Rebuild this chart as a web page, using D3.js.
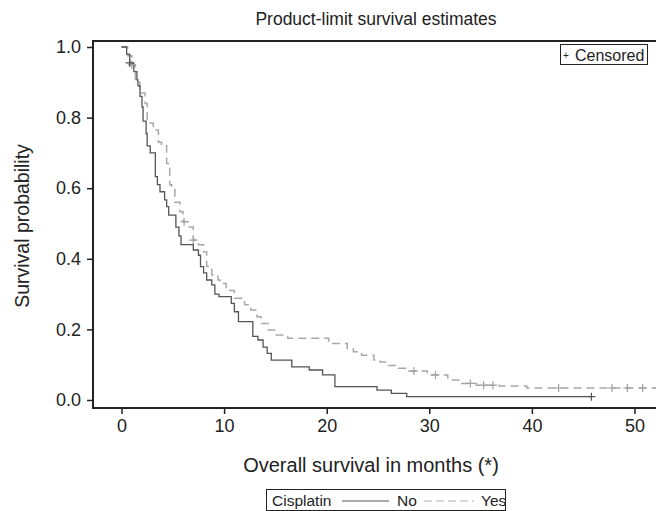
<!DOCTYPE html>
<html>
<head>
<meta charset="utf-8">
<script src="https://cdn.jsdelivr.net/npm/d3@7"></script>
<style>
  body { margin: 0; background: #fff; }
  text { font-family: "Liberation Sans", Arial, sans-serif; fill: #222; }
</style>
</head>
<body>
<div id="plot"></div>
<script>
// Kaplan-Meier step values: [months, survival]
const noSteps = [
  [0, 1.0], [0.5, 0.98], [0.8, 0.955], [1.2, 0.93], [1.5, 0.907], [1.6, 0.89],
  [1.8, 0.86], [2.0, 0.83], [2.1, 0.79], [2.4, 0.755], [2.5, 0.72], [2.8, 0.70],
  [3.3, 0.633], [3.5, 0.61], [3.75, 0.59], [4.2, 0.567], [4.4, 0.548], [4.6, 0.524],
  [5.3, 0.49], [5.6, 0.465], [5.8, 0.44], [7.0, 0.425], [7.5, 0.41], [7.7, 0.378],
  [8.0, 0.36], [8.3, 0.34], [8.8, 0.326], [9.1, 0.30], [9.5, 0.293], [10.7, 0.274],
  [11.0, 0.25], [11.4, 0.222], [12.8, 0.18], [13.3, 0.17], [13.8, 0.15], [14.2, 0.132],
  [14.6, 0.113], [16.6, 0.094], [18.3, 0.085], [19.6, 0.071], [20.8, 0.038],
  [24.9, 0.028], [26.3, 0.019], [27.8, 0.0094], [45.8, 0.0094]
];
const noCensored = [[0.8, 0.955], [45.8, 0.0094]];

const yesSteps = [
  [0, 1.0], [0.6, 0.975], [1.0, 0.95], [1.35, 0.90], [1.8, 0.87], [2.3, 0.84],
  [2.5, 0.79], [2.8, 0.785], [3.1, 0.765], [3.6, 0.73], [3.9, 0.72], [4.4, 0.67],
  [4.7, 0.61], [4.9, 0.60], [5.2, 0.56], [5.7, 0.533], [6.0, 0.505], [6.5, 0.49],
  [7.0, 0.453], [7.5, 0.44], [8.0, 0.42], [8.3, 0.378], [8.8, 0.354], [9.4, 0.34],
  [9.6, 0.33], [10.2, 0.31], [11.0, 0.288], [12.0, 0.27], [12.6, 0.255], [13.2, 0.236],
  [13.6, 0.217], [14.3, 0.198], [15.0, 0.184], [16.2, 0.175], [20.2, 0.16],
  [22.0, 0.146], [22.6, 0.137], [23.4, 0.127], [24.6, 0.113], [25.2, 0.108],
  [26.0, 0.098], [27.0, 0.09], [28.0, 0.082], [29.8, 0.071], [31.8, 0.057],
  [33.0, 0.047], [34.6, 0.042], [36.8, 0.040], [39.5, 0.034], [52.5, 0.034]
];
const yesCensored = [
  [1.0, 0.95], [6.1, 0.505], [7.0, 0.453], [28.5, 0.082], [30.6, 0.071],
  [34.0, 0.047], [35.3, 0.042], [36.2, 0.042], [42.6, 0.034], [47.8, 0.034],
  [49.3, 0.034], [50.8, 0.034], [52.2, 0.034]
];

const xTicks = [0, 10, 20, 30, 40, 50];
const yTicks = [0, 0.2, 0.4, 0.6, 0.8, 1.0];

const W = 656, H = 511;
const svg = d3.select("#plot").append("svg")
  .attr("width", W).attr("height", H);

// axis frame positions
const frameL = 93, frameT = 41, frameB = 408, frameR = 656;

const x = d3.scaleLinear().domain([0, 50]).range([121.5, 634.5]);
const y = d3.scaleLinear().domain([0, 1]).range([400, 47]);

// title
svg.append("text")
  .attr("x", 376).attr("y", 25)
  .attr("text-anchor", "middle")
  .style("font-size", "17.5px")
  .text("Product-limit survival estimates");

// frame lines (left, top, bottom)
svg.append("path")
  .attr("d", `M${frameR},${frameT}H${frameL}V${frameB}H${frameR}`)
  .attr("fill", "none").attr("stroke", "#222").attr("stroke-width", 2);

// y axis
const yAxis = svg.append("g")
  .attr("transform", `translate(${frameL - 1},0)`)
  .call(d3.axisLeft(y).tickValues(yTicks).tickFormat(d3.format(".1f")).tickSize(5).tickPadding(6));
yAxis.select(".domain").remove();
yAxis.selectAll("line").attr("stroke", "#222").attr("stroke-width", 1.5);
yAxis.selectAll("text").style("font-size", "18px").attr("fill", "#222");

// x axis
const xAxis = svg.append("g")
  .attr("transform", `translate(0,${frameB + 1})`)
  .call(d3.axisBottom(x).tickValues(xTicks).tickSize(5).tickPadding(5));
xAxis.select(".domain").remove();
xAxis.selectAll("line").attr("stroke", "#222").attr("stroke-width", 1.5);
xAxis.selectAll("text").style("font-size", "18px").attr("fill", "#222");

// axis titles
svg.append("text")
  .attr("x", 371).attr("y", 472)
  .attr("text-anchor", "middle")
  .style("font-size", "20px")
  .text("Overall survival in months (*)");

svg.append("text")
  .attr("transform", "translate(29,226) rotate(-90)")
  .attr("text-anchor", "middle")
  .style("font-size", "19.5px")
  .text("Survival probability");

// curves
const line = d3.line()
  .x(d => x(d[0]))
  .y(d => y(d[1]))
  .curve(d3.curveStepAfter);

const plotArea = svg.append("g");

plotArea.append("path")
  .datum(yesSteps)
  .attr("d", line)
  .attr("fill", "none")
  .attr("stroke", "#a8a8a8")
  .attr("stroke-width", 1.5)
  .attr("stroke-dasharray", "8,5");

plotArea.append("path")
  .datum(noSteps)
  .attr("d", line)
  .attr("fill", "none")
  .attr("stroke", "#555")
  .attr("stroke-width", 1.3);

// censor marks
function drawCensor(data, color) {
  plotArea.selectAll(null)
    .data(data)
    .enter()
    .append("path")
    .attr("d", d => {
      const cx = x(d[0]), cy = y(d[1]);
      return `M${cx - 4},${cy}H${cx + 4}M${cx},${cy - 4}V${cy + 4}`;
    })
    .attr("stroke", color)
    .attr("stroke-width", 1.2);
}
drawCensor(yesCensored, "#a0a0a0");
drawCensor(noCensored, "#555");

// censored box
svg.append("rect")
  .attr("x", 560.5).attr("y", 44.5).attr("width", 87).attr("height", 20)
  .attr("fill", "#fff").attr("stroke", "#222").attr("stroke-width", 1);
svg.append("text")
  .attr("x", 563).attr("y", 59)
  .style("font-size", "10px")
  .text("+");
svg.append("text")
  .attr("x", 575).attr("y", 60.5)
  .style("font-size", "16px")
  .text("Censored");

// bottom legend
const lg = svg.append("g");
lg.append("rect")
  .attr("x", 266.5).attr("y", 489.5).attr("width", 239).attr("height", 21)
  .attr("fill", "#fff").attr("stroke", "#222").attr("stroke-width", 1);
lg.append("text")
  .attr("x", 272).attr("y", 506)
  .style("font-size", "15.5px")
  .text("Cisplatin");
lg.append("line")
  .attr("x1", 342).attr("x2", 389).attr("y1", 501).attr("y2", 501)
  .attr("stroke", "#555").attr("stroke-width", 1.2);
lg.append("text")
  .attr("x", 397).attr("y", 506)
  .style("font-size", "15.5px")
  .text("No");
lg.append("line")
  .attr("x1", 424).attr("x2", 474).attr("y1", 501).attr("y2", 501)
  .attr("stroke", "#b0b0b0").attr("stroke-width", 1.2)
  .attr("stroke-dasharray", "8,4");
lg.append("text")
  .attr("x", 481).attr("y", 506)
  .style("font-size", "15.5px")
  .text("Yes");
</script>
</body>
</html>
